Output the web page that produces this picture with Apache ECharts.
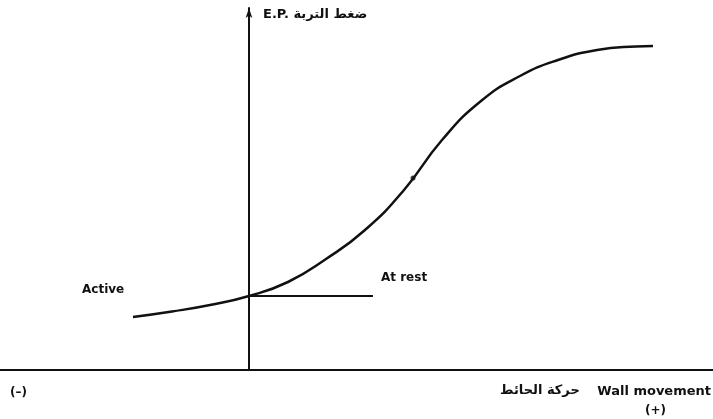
<!DOCTYPE html>
<html>
<head>
<meta charset="utf-8">
<script src="https://cdn.jsdelivr.net/npm/echarts@6/dist/echarts.min.js"></script>
<style>
  html, body { margin: 0; padding: 0; background: #fff; }
  #chart { width: 713px; height: 419px; }
</style>
</head>
<body>
<div id="chart"></div>
<script>
// Earth pressure against wall movement (schematic units; 0 = wall at rest)
const movement = [-11.6, -7.7, -3.9, 0, 3.9, 7.7, 11.6, 15.5, 19.3, 23.2, 27.1, 30.9, 34.8, 38.7, 40.4];
const pressure = [5.3, 5.85, 6.5, 7.4, 8.8, 11.1, 14.0, 18.0, 23.0, 26.9, 29.4, 31.0, 32.0, 32.35, 32.4];
const restLine = [[0, 7.4], [12.4, 7.4]];
const markedPoint = [[16.4, 19.2]];
const axisTitle = 'E.P. ضغط التربة';
const moveTitle = 'Wall movement';
const moveTitleAr = 'حركة الحائط';

const curve = movement.map((m, i) => [m, pressure[i]]);

const chart = echarts.init(document.getElementById('chart'), null, { renderer: 'canvas' });
const font = '"DejaVu Sans", sans-serif';

chart.setOption({
  animation: false,
  backgroundColor: '#fff',
  grid: { left: 0, right: 0, top: 8, bottom: 49 },
  xAxis: {
    type: 'value', min: -24.9, max: 46.4,
    axisLine: { onZero: false, lineStyle: { color: '#111', width: 2 } },
    axisTick: { show: false }, axisLabel: { show: false }, splitLine: { show: false }
  },
  yAxis: {
    type: 'value', min: 0, max: 36.2,
    axisLine: { onZero: true, symbol: ['none', 'arrow'], symbolSize: [5, 10],
      lineStyle: { color: '#111', width: 2 } },
    axisTick: { show: false }, axisLabel: { show: false }, splitLine: { show: false }
  },
  series: [
    {
      type: 'line', data: curve, smooth: true, showSymbol: false,
      lineStyle: { color: '#111', width: 2.5 }
    },
    {
      type: 'line', data: restLine, showSymbol: false,
      lineStyle: { color: '#111', width: 1.8 }
    },
    {
      type: 'scatter', data: markedPoint, symbolSize: 5,
      itemStyle: { color: '#111' }
    }
  ],
  graphic: [
    { type: 'text', left: 263, top: 8, style: { text: axisTitle, font: 'bold 13px ' + font, fill: '#111' } },
    { type: 'text', left: 82, top: 284, style: { text: 'Active', font: 'bold 12px ' + font, fill: '#111' } },
    { type: 'text', left: 381, top: 272, style: { text: 'At rest', font: 'bold 12px ' + font, fill: '#111' } },
    { type: 'text', left: 10, top: 387, style: { text: '(–)', font: 'bold 12px ' + font, fill: '#111' } },
    { type: 'text', right: 2, top: 385, style: { text: moveTitle, font: 'bold 13px ' + font, fill: '#111' } },
    { type: 'text', left: 500, top: 384, style: { text: moveTitleAr, font: 'bold 13px ' + font, fill: '#111' } },
    { type: 'text', left: 645, top: 405, style: { text: '(+)', font: 'bold 12px ' + font, fill: '#111' } }
  ]
});
</script>
</body>
</html>
